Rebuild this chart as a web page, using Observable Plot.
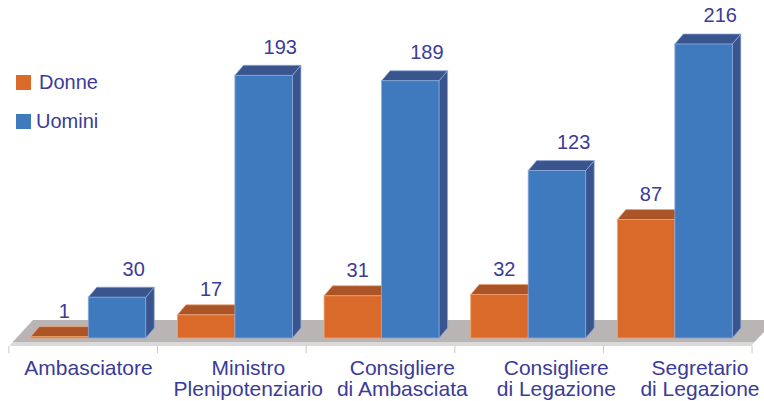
<!DOCTYPE html>
<html><head><meta charset="utf-8">
<script src="https://cdn.jsdelivr.net/npm/d3@7"></script>
<script src="https://cdn.jsdelivr.net/npm/@observablehq/plot@0.6"></script>
<style>
html,body{margin:0;padding:0;background:#fff;}
#wrap{position:relative;width:764px;height:401px;overflow:hidden;font-family:"Liberation Sans",Arial,sans-serif;}
#legend{position:absolute;left:0;top:0;}
.item{position:absolute;display:flex;align-items:center;white-space:nowrap;font-size:20px;color:#3B3B98;line-height:20px;}
.sw{display:inline-block;width:15px;height:15px;}
</style></head>
<body><div id="wrap"><div id="legend"></div></div>
<script>
// ---- data ----
const categories = ["Ambasciatore", "Ministro\nPlenipotenziario", "Consigliere\ndi Ambasciata", "Consigliere\ndi Legazione", "Segretario\ndi Legazione"];
const series = ["Donne", "Uomini"];
const donne = [1, 17, 31, 32, 87];
const uomini = [30, 193, 189, 123, 216];

// ---- style ----
const frontColors = ["#DA6A2A", "#3F7ABE"];
const shadeColors = ["#AA5428", "#3A558E"];
const edgeColors = ["#F2A26E", "#8DA9DA"];
const textColor = "#3B3B98";

// ---- layout (in scale units) ----
const BAR = 0.392, DX = 0.058, DY = 7.35;
const labelShift = [0.39, 0.48, 0.53, 0.58, 0.56];
const values = [donne, uomini];

const bars = [];
categories.forEach((c, i) => {
  values.forEach((vals, j) => {
    const x1 = i + j * BAR;
    bars.push({id: `${i}-${j}`, i, j, series: series[j], value: vals[i], x1, x2: x1 + BAR});
  });
});
const sides = bars.flatMap(b => [
  {id: b.id, j: b.j, x: b.x2, y1: 0, y2: b.value},
  {id: b.id, j: b.j, x: b.x2 + DX, y1: DY, y2: b.value + DY}
]);
const tops = bars.flatMap(b => [
  {id: b.id, j: b.j, y: b.value, x1: b.x1, x2: b.x2},
  {id: b.id, j: b.j, y: b.value + DY, x1: b.x1 + DX, x2: b.x2 + DX}
]);
const floorTop = [
  {y: -2.9, x1: -0.123, x2: 4.935},
  {y: 13.2, x1: 0.015, x2: 5.078}
];
const floorEdge = [
  {y: -5.9, x1: -0.145, x2: 4.915},
  {y: -2.9, x1: -0.123, x2: 4.935}
];
const tickPos = d3.range(categories.length + 1).map(k => -0.153 + 1.0136 * k);

const marks = [
  Plot.areaX(floorTop, {y: "y", x1: "x1", x2: "x2", fill: "#B9B5B5"}),
  Plot.areaX(floorEdge, {y: "y", x1: "x1", x2: "x2", fill: "#DAD8D8"}),
  Plot.ruleX(tickPos, {x: d => d, y1: -5.9, y2: -11.2, stroke: "#C8C8C8"})
];
series.forEach((s, j) => {
  marks.push(
    Plot.areaY(sides.filter(d => d.j === j), {x: "x", y1: "y1", y2: "y2", z: "id", fill: shadeColors[j], stroke: edgeColors[j], strokeWidth: 0.7}),
    Plot.areaX(tops.filter(d => d.j === j), {y: "y", x1: "x1", x2: "x2", z: "id", fill: shadeColors[j], stroke: edgeColors[j], strokeWidth: 0.7}),
    Plot.rectY(bars.filter(d => d.j === j), {x1: "x1", x2: "x2", y1: 0, y2: "value", fill: frontColors[j], stroke: edgeColors[j], strokeWidth: 0.8})
  );
});
marks.push(
  Plot.text(bars.filter(d => d.j === 0), {
    x: d => (d.x1 + d.x2) / 2 + 0.03,
    y: d => d.value + DY,
    text: d => String(d.value),
    lineAnchor: "bottom", dy: -9, fontSize: 20, fill: textColor
  }),
  Plot.text(bars.filter(d => d.j === 1), {
    x: d => (d.x1 + d.x2) / 2 + 0.11,
    y: d => d.value + DY,
    text: d => String(d.value),
    lineAnchor: "bottom", dy: -12, fontSize: 20, fill: textColor
  }),
  Plot.text(categories, {
    x: (d, i) => i + labelShift[i],
    y: () => -16.2,
    text: d => d,
    lineAnchor: "top", lineHeight: 1.0, fontSize: 21, fill: textColor
  })
);

const chart = Plot.plot({
  width: 764, height: 401,
  marginLeft: 0, marginRight: 0, marginTop: 44, marginBottom: 63,
  x: {type: "linear", domain: [-0.21, 5.0], axis: null},
  y: {type: "linear", domain: [0, 216], axis: null},
  style: {fontFamily: "'Liberation Sans', Arial, sans-serif", background: "#fff", overflow: "hidden"},
  marks
});
const wrap = document.getElementById("wrap");
wrap.insertBefore(chart, wrap.firstChild);

const legend = document.getElementById("legend");
series.forEach((s, j) => {
  const item = document.createElement("div");
  item.className = "item";
  item.style.left = "16px";
  item.style.top = (72 + 39 * j) + "px";
  const sw = document.createElement("span");
  sw.className = "sw";
  sw.style.background = frontColors[j];
  sw.style.marginRight = (j === 0 ? 8 : 5) + "px";
  item.appendChild(sw);
  item.appendChild(document.createTextNode(s));
  legend.appendChild(item);
});
</script>
</body></html>
